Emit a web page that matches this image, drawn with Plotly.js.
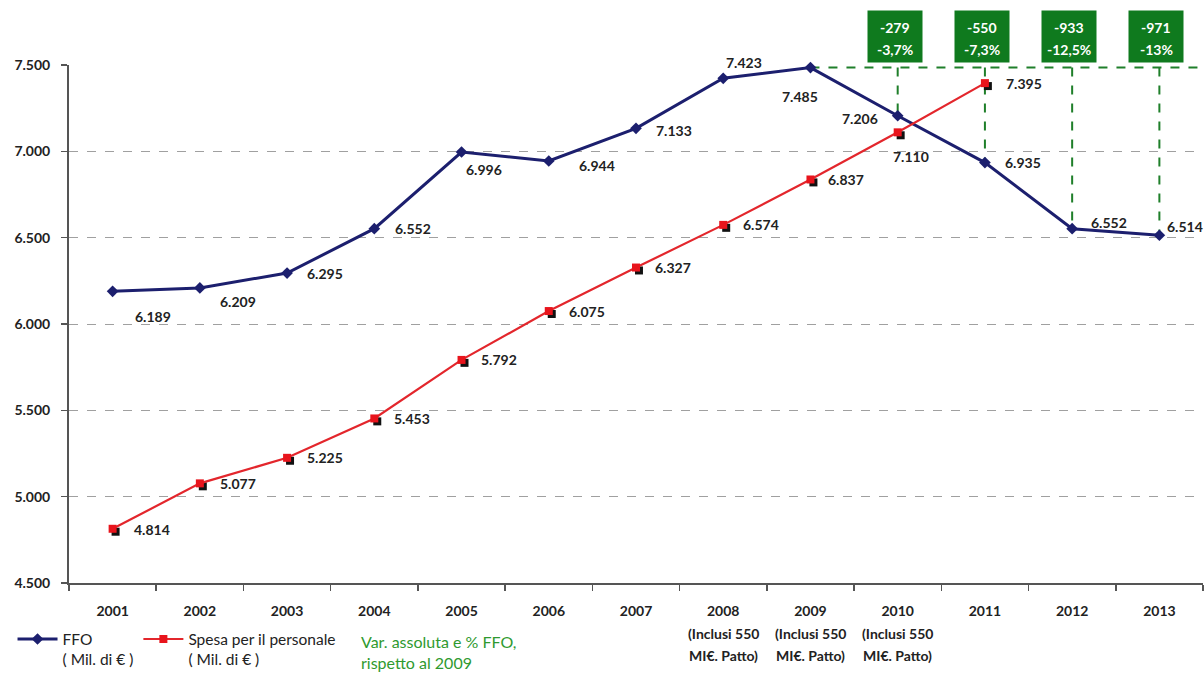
<!DOCTYPE html>
<html>
<head>
<meta charset="utf-8">
<script src="https://cdn.plot.ly/plotly-3.0.1.min.js"></script>
<style>html,body{margin:0;padding:0;background:#fff;}#chart{width:1204px;height:674px;}</style>
</head>
<body>
<div id="chart"></div>
<script>
// ---- data ----
var years = ['2001','2002','2003','2004','2005','2006','2007','2008','2009','2010','2011','2012','2013'];
var ffo = [6189, 6209, 6295, 6552, 6996, 6944, 7133, 7423, 7485, 7206, 6935, 6552, 6514];
var spesa = [4814, 5077, 5225, 5453, 5792, 6075, 6327, 6574, 6837, 7110, 7395];
var spesaYears = years.slice(0, spesa.length);
var subLabelYears = ['2008', '2009', '2010'];
var subLabelLine1 = '(Inclusi 550';
var subLabelLine2 = 'MI€. Patto)';
var varAbs = ['-279', '-550', '-933', '-971'];
var varPct = ['-3,7%', '-7,3%', '-12,5%', '-13%'];
var varYears = ['2010', '2011', '2012', '2013'];
var baseYear = '2009';
var yTicks = [4500, 5000, 5500, 6000, 6500, 7000, 7500];

// ---- label placement (style, not data) ----
var ffoLabelPos = [
  ['left', 20, -25], ['left', 18, -14], ['left', 18, 0], ['left', 19, 0],
  ['left', 2, -17], ['left', 28, -4], ['left', 18, -2], ['left', 1, 16],
  ['center', -10, -29], ['right', -18, -3], ['left', 18, 0], ['left', 17, 6], ['left', 6, 9]
];
var spesaLabelPos = [
  ['left', 19, -1], ['left', 18, 0], ['left', 18, 0], ['left', 18, 0], ['left', 17, 0],
  ['left', 18, 0], ['left', 17, 0], ['left', 18, 0], ['left', 16, 0], ['center', 13, -24], ['left', 19, 0]
];

function fmt(v) { return String(v).replace(/\B(?=(\d{3})+(?!\d))/g, '.'); }
function idx(yr) { return years.indexOf(yr); }

var FONT = 'Lato, "Open Sans", sans-serif';
var navy = '#1c1f6e';
var red = '#e3262c';
var green = '#0f7a1e';
var shadowDx = 0.034, shadowDy = 17;

var traces = [
  {
    x: years, y: ffo, type: 'scatter', mode: 'lines+markers',
    name: 'FFO<br>( Mil. di € )',
    line: {color: navy, width: 3},
    marker: {symbol: 'diamond', size: 9, color: navy},
    xaxis: 'x', yaxis: 'y', cliponaxis: false
  },
  {
    x: spesaYears, y: spesa, type: 'scatter', mode: 'markers',
    showlegend: false,
    marker: {symbol: 'square', size: 8, color: '#111'},
    xaxis: 'x2', yaxis: 'y2', cliponaxis: false
  },
  {
    x: spesaYears, y: spesa, type: 'scatter', mode: 'lines+markers',
    name: 'Spesa per il personale<br>( Mil. di € )',
    line: {color: red, width: 2.2},
    marker: {symbol: 'square', size: 8, color: '#e8141c'},
    xaxis: 'x3', yaxis: 'y3', cliponaxis: false
  }
];

var lblFont = {family: FONT, size: 14, color: '#222', weight: 'bold'};
var annotations = [];
ffo.forEach(function (v, i) {
  var p = ffoLabelPos[i];
  annotations.push({x: i, y: v, xref: 'x', yref: 'y', text: fmt(v), showarrow: false,
    xanchor: p[0], yanchor: 'middle', xshift: p[1], yshift: p[2], font: lblFont});
});
spesa.forEach(function (v, i) {
  var p = spesaLabelPos[i];
  annotations.push({x: idx(spesaYears[i]), y: v, xref: 'x', yref: 'y', text: fmt(v), showarrow: false,
    xanchor: p[0], yanchor: 'middle', xshift: p[1], yshift: p[2], font: lblFont});
});
subLabelYears.forEach(function (yr) {
  annotations.push({x: idx(yr), y: -0.097, xref: 'x', yref: 'paper', text: subLabelLine1, showarrow: false,
    xanchor: 'center', yanchor: 'middle', font: lblFont});
  annotations.push({x: idx(yr), y: -0.139, xref: 'x', yref: 'paper', text: subLabelLine2, showarrow: false,
    xanchor: 'center', yanchor: 'middle', font: lblFont});
});
varYears.forEach(function (yr, k) {
  annotations.push({x: idx(yr), y: 1, xref: 'x', yref: 'paper', text: ' ', showarrow: false,
    xanchor: 'center', yanchor: 'bottom', yshift: 2, xshift: -3, width: 54, height: 51,
    bgcolor: green, borderpad: 0, font: {size: 4}});
  annotations.push({x: idx(yr), y: 1, xref: 'x', yref: 'paper', text: varAbs[k], showarrow: false,
    xanchor: 'center', yanchor: 'middle', yshift: 38, xshift: -3,
    font: {family: FONT, size: 14, color: '#fff', weight: 'bold'}});
  annotations.push({x: idx(yr), y: 1, xref: 'x', yref: 'paper', text: varPct[k], showarrow: false,
    xanchor: 'center', yanchor: 'middle', yshift: 16, xshift: -3,
    font: {family: FONT, size: 14, color: '#fff', weight: 'bold'}});
});
annotations.push({x: 0.256, y: -0.112, xref: 'paper', yref: 'paper', xanchor: 'left', yanchor: 'middle',
  text: 'Var. assoluta e % FFO,', showarrow: false, font: {family: FONT, size: 16, color: '#2f9a2f'}});
annotations.push({x: 0.256, y: -0.153, xref: 'paper', yref: 'paper', xanchor: 'left', yanchor: 'middle',
  text: 'rispetto al 2009', showarrow: false, font: {family: FONT, size: 16, color: '#2f9a2f'}});

var baseIdx = idx(baseYear);
var baseVal = ffo[baseIdx];
var shapes = [{type: 'line', xref: 'x', yref: 'y', x0: baseIdx, x1: years.length - 0.5, y0: baseVal, y1: baseVal,
  line: {color: '#1f7f2a', width: 2, dash: 'dash'}, layer: 'between'}];
varYears.forEach(function (yr) {
  var i = idx(yr);
  shapes.push({type: 'line', xref: 'x', yref: 'y', x0: i, x1: i, y0: baseVal, y1: ffo[i],
    line: {color: '#1f7f2a', width: 2, dash: 'dash'}, layer: 'between'});
});

var xRange = [-0.5, years.length - 0.5];
var yRange = [yTicks[0], yTicks[yTicks.length - 1]];

var layout = {
  width: 1204, height: 674,
  margin: {l: 69, r: 1, t: 65, b: 91, autoexpand: false},
  paper_bgcolor: '#fff', plot_bgcolor: '#fff',
  separators: ',.',
  hovermode: false,
  font: {family: FONT, size: 14, color: '#222'},
  xaxis: {
    type: 'category', categoryarray: years, range: xRange,
    tickson: 'boundaries', ticks: 'outside', ticklen: 6, tickcolor: '#555', tickwidth: 1.5,
    showline: true, linecolor: '#555', linewidth: 2, showgrid: false, zeroline: false,
    ticklabelstandoff: 14, automargin: false,
    tickfont: {family: FONT, size: 14, color: '#222', weight: 'bold'}
  },
  yaxis: {
    range: yRange, tickvals: yTicks, tickformat: ',d',
    ticks: 'outside', ticklen: 6, tickcolor: '#555', tickwidth: 1.5,
    showline: true, linecolor: '#555', linewidth: 2, zeroline: false,
    showgrid: true, gridcolor: '#a0a0a0', gridwidth: 1, griddash: 'dash',
    ticklabelstandoff: 8, automargin: false,
    tickfont: {family: FONT, size: 14, color: '#222', weight: 'bold'}
  },
  xaxis2: {type: 'category', categoryarray: years, overlaying: 'x', visible: false,
    range: [xRange[0] - shadowDx, xRange[1] - shadowDx]},
  yaxis2: {overlaying: 'y', visible: false, range: [yRange[0] + shadowDy, yRange[1] + shadowDy]},
  xaxis3: {type: 'category', categoryarray: years, overlaying: 'x', visible: false, range: xRange},
  yaxis3: {overlaying: 'y', visible: false, range: yRange},
  showlegend: true,
  legend: {
    orientation: 'h', xref: 'container', yref: 'container',
    x: 0.0104, xanchor: 'left', y: 0.0765, yanchor: 'top',
    valign: 'top', itemwidth: 40,
    font: {family: FONT, size: 15.5, color: '#222'},
    bgcolor: 'rgba(0,0,0,0)', tracegroupgap: 0
  },
  annotations: annotations,
  shapes: shapes
};

Plotly.newPlot('chart', traces, layout, {displayModeBar: false, staticPlot: true});
</script>
</body>
</html>
